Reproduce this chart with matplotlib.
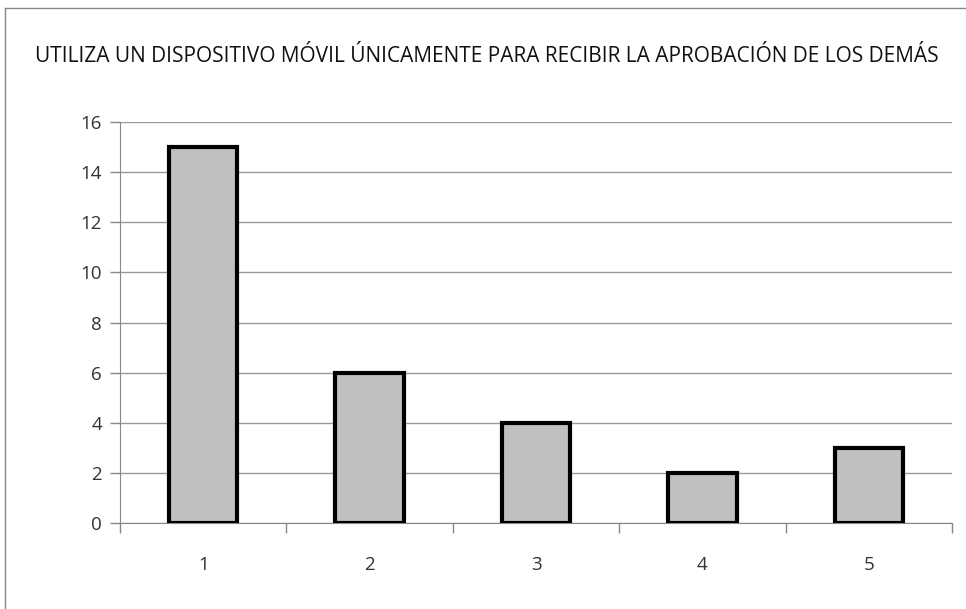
import matplotlib.pyplot as plt
from matplotlib.lines import Line2D

categories = ['1', '2', '3', '4', '5']
values = [15, 6, 4, 2, 3]
yticks = [0, 2, 4, 6, 8, 10, 12, 14, 16]
title = 'UTILIZA UN DISPOSITIVO MÓVIL ÚNICAMENTE PARA RECIBIR LA APROBACIÓN DE LOS DEMÁS'

plt.rcParams['font.family'] = ['Open Sans', 'DejaVu Sans']

fig = plt.figure(figsize=(9.66, 6.09), dpi=100)
ax = fig.add_axes([120 / 966, 1 - 523 / 609, 832 / 966, 401 / 609])

x = list(range(len(categories)))
ax.bar(x, values, width=0.41, color='#c0c0c0', edgecolor='black', linewidth=3, zorder=3)

ax.set_xlim(-0.5, len(categories) - 0.5)
ax.set_ylim(0, 16)
ax.set_yticks(yticks)
ax.set_yticklabels([str(v) for v in yticks], fontsize=13.5, color='#333333')
ax.yaxis.grid(True, color='#999999', linewidth=1, zorder=0)

# category labels centred, tick marks between categories
ax.set_xticks(x)
ax.set_xticklabels(categories, fontsize=13.5, color='#333333')
ax.tick_params(axis='x', length=0, pad=24)
ax.set_xticks([i - 0.5 for i in range(len(categories) + 1)], minor=True)
ax.tick_params(axis='x', which='minor', length=7, color='#888888', width=1)
ax.tick_params(axis='y', length=7, color='#888888', width=1, pad=6)

for s in ['top', 'right']:
    ax.spines[s].set_visible(False)
ax.spines['left'].set_color('#888888')
ax.spines['bottom'].set_color('#888888')

fig.text(487 / 966, 1 - 56 / 609, title, ha='center', va='center', fontsize=15, color='#111111')

# chart area border (left and top visible)
fig.add_artist(Line2D([5 / 966, 5 / 966], [0, 1 - 8 / 609], transform=fig.transFigure, color='#888888', linewidth=1))
fig.add_artist(Line2D([5 / 966, 1], [1 - 8 / 609, 1 - 8 / 609], transform=fig.transFigure, color='#888888', linewidth=1))

fig.savefig('out.png', dpi=100)
